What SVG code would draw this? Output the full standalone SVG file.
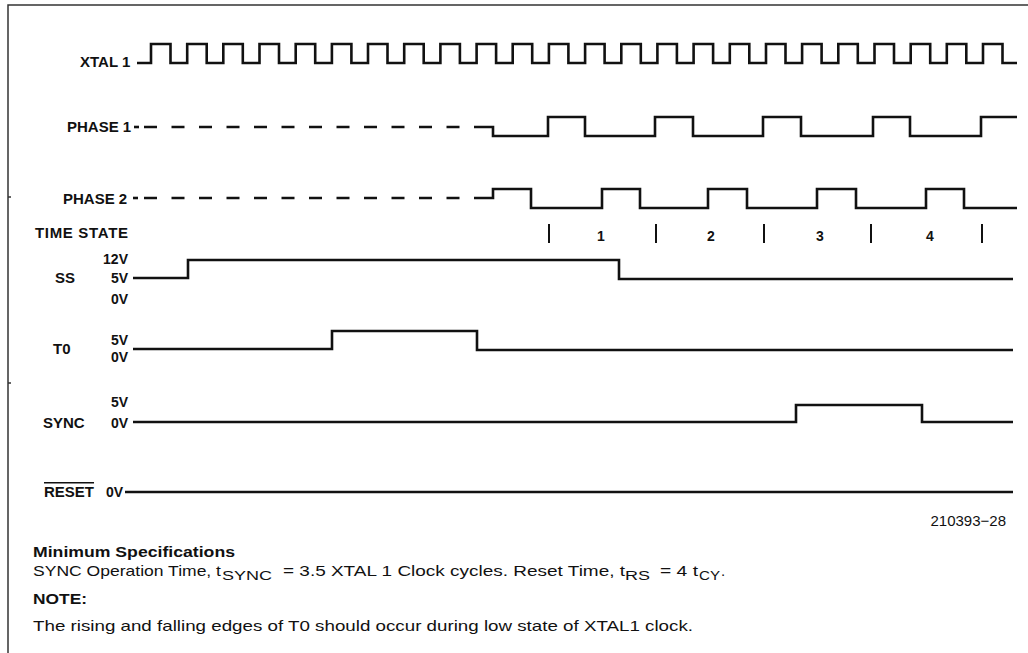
<svg xmlns="http://www.w3.org/2000/svg" width="1028" height="653" viewBox="0 0 1028 653">
<style>
.lbl{font-family:"Liberation Sans",Arial,sans-serif;font-weight:bold;font-size:15px;fill:#111}
.v{font-family:"Liberation Sans",Arial,sans-serif;font-weight:bold;font-size:14px;fill:#111}
.num{font-family:"Liberation Sans",Arial,sans-serif;font-weight:bold;font-size:14px;fill:#111}
.txt{font-family:"Liberation Sans",Arial,sans-serif;font-size:15px;fill:#111}
.sub{font-family:"Liberation Sans",Arial,sans-serif;font-size:12px;fill:#111}
.wave{fill:none;stroke:#111;stroke-width:2.6;stroke-linejoin:miter;stroke-linecap:butt}
.dash{fill:none;stroke:#111;stroke-width:2.6;stroke-dasharray:13 14.5}
.tick{stroke:#111;stroke-width:2}
.frame{fill:none;stroke:#333;stroke-width:1.5}
</style>
<g id="frame">
<path class="frame" d="M8,653 V5 H1028"/>
<line class="frame" x1="8" y1="197" x2="11" y2="197"/>
<line class="frame" x1="8" y1="383" x2="11" y2="383"/>
</g>
<g id="xtal1">
<text class="lbl" x="80" y="67">XTAL 1</text>
<path class="wave" d="M137,63 H151 V44 H170.5 V63 H187.2 V44 H206.7 V63 H223.3 V44 H242.8 V63 H259.5 V44 H279 V63 H295.7 V44 H315.2 V63 H331.9 V44 H351.4 V63 H368 V44 H387.5 V63 H404.2 V44 H423.7 V63 H440.4 V44 H459.9 V63 H476.6 V44 H496.1 V63 H512.7 V44 H532.2 V63 H548.9 V44 H568.4 V63 H585.1 V44 H604.6 V63 H621.3 V44 H640.8 V63 H657.4 V44 H676.9 V63 H693.6 V44 H713.1 V63 H729.8 V44 H749.3 V63 H766 V44 H785.5 V63 H802.1 V44 H821.6 V63 H838.3 V44 H857.8 V63 H874.5 V44 H894 V63 H910.7 V44 H930.2 V63 H946.8 V44 H966.3 V63 H983 V44 H1002.5 V63 H1017"/>
</g>
<g id="phase1">
<text class="lbl" x="67" y="132">PHASE 1</text>
<line class="wave" x1="134" y1="127" x2="139" y2="127"/>
<line class="dash" x1="144" y1="127" x2="474" y2="127"/>
<path class="wave" d="M474,127 H493 V136 H548 V117 H585 V136 H655 V117 H693 V136 H763 V117 H801 V136 H873 V117 H910 V136 H981 V117 H1017"/>
</g>
<g id="phase2">
<text class="lbl" x="63" y="204">PHASE 2</text>
<line class="wave" x1="133" y1="198" x2="138" y2="198"/>
<line class="dash" x1="144" y1="198" x2="474" y2="198"/>
<path class="wave" d="M474,198 H493 V189 H531 V208 H602 V189 H640 V208 H708 V189 H747 V208 H817 V189 H856 V208 H926 V189 H964 V208 H1017"/>
</g>
<g id="time-state">
<text class="lbl" x="35" y="238" textLength="93" lengthAdjust="spacing">TIME STATE</text>
<line class="tick" x1="549" y1="224" x2="549" y2="243"/>
<line class="tick" x1="656" y1="224" x2="656" y2="243"/>
<line class="tick" x1="764" y1="224" x2="764" y2="243"/>
<line class="tick" x1="871" y1="224" x2="871" y2="243"/>
<line class="tick" x1="982" y1="224" x2="982" y2="243"/>
<text class="num" x="601" y="241" text-anchor="middle">1</text>
<text class="num" x="711" y="241" text-anchor="middle">2</text>
<text class="num" x="820" y="241" text-anchor="middle">3</text>
<text class="num" x="930" y="241" text-anchor="middle">4</text>
</g>
<g id="ss">
<text class="lbl" x="55" y="283">SS</text>
<text class="v" x="128" y="264" text-anchor="end">12V</text>
<text class="v" x="128" y="283" text-anchor="end">5V</text>
<text class="v" x="128" y="304" text-anchor="end">0V</text>
<path class="wave" d="M133,278 H188 V260 H619 V279 H1013"/>
</g>
<g id="t0">
<text class="lbl" x="53" y="354">T0</text>
<text class="v" x="128" y="345" text-anchor="end">5V</text>
<text class="v" x="128" y="362" text-anchor="end">0V</text>
<path class="wave" d="M133,349 H332 V331 H477 V350 H1013"/>
</g>
<g id="sync">
<text class="lbl" x="43" y="428">SYNC</text>
<text class="v" x="128" y="407" text-anchor="end">5V</text>
<text class="v" x="128" y="428" text-anchor="end">0V</text>
<path class="wave" d="M133,422 H796 V405 H922 V422 H1013"/>
</g>
<g id="reset">
<text class="lbl" x="44" y="497" text-decoration="overline">RESET</text>
<text class="v" x="123" y="497" text-anchor="end">0V</text>
<path class="wave" d="M125,492 H1013"/>
</g>
<g id="notes">
<text class="txt" x="1006" y="526" text-anchor="end">210393−28</text>
<text class="lbl" x="33" y="557" textLength="202" lengthAdjust="spacingAndGlyphs">Minimum Specifications</text>
<text class="txt" x="33" y="576" textLength="188" lengthAdjust="spacingAndGlyphs">SYNC Operation Time, t</text>
<text class="sub" x="222" y="580" textLength="50" lengthAdjust="spacingAndGlyphs">SYNC</text>
<text class="txt" x="283" y="576" textLength="342" lengthAdjust="spacingAndGlyphs">= 3.5 XTAL 1 Clock cycles. Reset Time, t</text>
<text class="sub" x="625" y="580" textLength="25" lengthAdjust="spacingAndGlyphs">RS</text>
<text class="txt" x="660" y="576" textLength="38" lengthAdjust="spacingAndGlyphs">= 4 t</text>
<text class="sub" x="699" y="580" textLength="21" lengthAdjust="spacingAndGlyphs">CY</text>
<text class="txt" x="721" y="576">.</text>
<text class="lbl" x="33" y="604" textLength="54" lengthAdjust="spacingAndGlyphs">NOTE:</text>
<text class="txt" x="33" y="631" textLength="660" lengthAdjust="spacingAndGlyphs">The rising and falling edges of T0 should occur during low state of XTAL1 clock.</text>
</g>
</svg>
